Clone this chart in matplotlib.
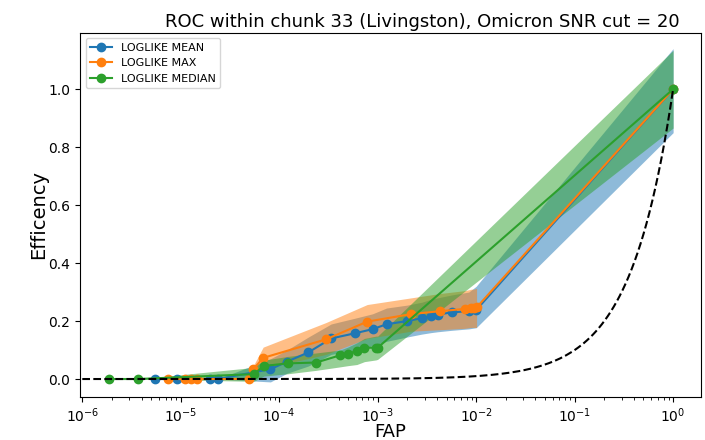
import numpy as np
import matplotlib
matplotlib.use("Agg")
import matplotlib.pyplot as plt

# ROC points (FAP, efficiency) with the lower/upper band for each ranking statistic
fap_mean = [5.5e-6, 9.2e-6, 1.96e-5, 2.37e-5, 8.15e-5, 1.2e-4, 1.98e-4, 3.37e-4,
            5.9e-4, 8.87e-4, 1.23e-3, 1.99e-3, 2.81e-3, 3.47e-3, 4.05e-3,
            5.62e-3, 8.41e-3, 1.0e-2, 1.0]
eff_mean = [0.0, 0.0, 0.0, 0.0, 0.034, 0.06, 0.092, 0.14, 0.158, 0.172, 0.189,
            0.2, 0.21, 0.217, 0.222, 0.23, 0.234, 0.238, 1.0]
lo_mean = [0.0, 0.0, 0.0, 0.0, -0.01, 0.02, 0.045, 0.085, 0.1, 0.115, 0.13,
           0.145, 0.155, 0.16, 0.163, 0.168, 0.173, 0.177, 0.85]
hi_mean = [0.0, 0.0, 0.0, 0.0, 0.07, 0.1, 0.145, 0.19, 0.21, 0.225, 0.245,
           0.255, 0.265, 0.275, 0.28, 0.29, 0.3, 0.32, 1.14]

fap_max = [7.4e-6, 1.1e-5, 1.28e-5, 1.45e-5, 4.99e-5, 5.44e-5, 6.87e-5, 2.99e-4,
           7.82e-4, 2.18e-3, 4.28e-3, 7.67e-3, 8.96e-3, 9.46e-3, 1.01e-2, 1.0]
eff_max = [0.0, 0.0, 0.0, 0.0, 0.0, 0.033, 0.073, 0.137, 0.198, 0.224, 0.234,
           0.242, 0.246, 0.246, 0.247, 1.0]
lo_max = [0.0, 0.0, 0.0, 0.0, 0.0, 0.02, 0.035, 0.085, 0.14, 0.165, 0.17,
          0.175, 0.178, 0.178, 0.178, np.nan]
hi_max = [0.0, 0.0, 0.0, 0.0, 0.0, 0.045, 0.11, 0.195, 0.257, 0.28, 0.295,
          0.305, 0.31, 0.31, 0.313, np.nan]

fap_median = [1.87e-6, 3.67e-6, 5.52e-5, 6.97e-5, 1.22e-4, 2.38e-4, 4.16e-4,
              4.96e-4, 6.14e-4, 7.33e-4, 9.63e-4, 1.0e-3, 1.0]
eff_median = [0.0, 0.0, 0.017, 0.045, 0.054, 0.057, 0.082, 0.086, 0.098, 0.108,
              0.108, 0.108, 1.0]
lo_median = [0.0, 0.0, -0.008, 0.01, 0.018, 0.03, 0.042, 0.046, 0.05, 0.06,
             0.066, 0.068, 0.866]
hi_median = [0.0, 0.0, 0.04, 0.065, 0.078, 0.09, 0.1, 0.11, 0.125, 0.14,
             0.148, 0.148, 1.134]

# chance line: efficiency equals FAP
chance_fap = np.logspace(-6, 0, 200)

series = [
    ("LOGLIKE MEAN", fap_mean, eff_mean, lo_mean, hi_mean, "C0"),
    ("LOGLIKE MAX", fap_max, eff_max, lo_max, hi_max, "C1"),
    ("LOGLIKE MEDIAN", fap_median, eff_median, lo_median, hi_median, "C2"),
]

fig = plt.figure(figsize=(7.05, 4.4), dpi=100)
ax = fig.add_axes([0.1135, 0.0984, 0.8808, 0.8273])

for label, x, y, lo, hi, c in series:
    ax.plot(x, y, marker="o", color=c, label=label)
    ax.fill_between(x, lo, hi, color=c, alpha=0.5, linewidth=0)

ax.plot(chance_fap, chance_fap, "k--")

ax.set_xscale("log")
ax.set_xlim(10 ** -6.023, 10 ** 0.283)
ax.set_ylim(-0.061, 1.195)
ax.set_xticks([1e-6, 1e-5, 1e-4, 1e-3, 1e-2, 1e-1, 1e0])

ax.set_xlabel("FAP", fontsize=13, labelpad=-1.5)
ax.set_ylabel("Efficency", fontsize=14, labelpad=0)
ax.set_title("ROC within chunk 33 (Livingston), Omicron SNR cut = 20",
             fontsize=13, x=0.551, pad=4)
ax.legend(loc="upper left", fontsize=8)

fig.savefig("out.png", dpi=100)
